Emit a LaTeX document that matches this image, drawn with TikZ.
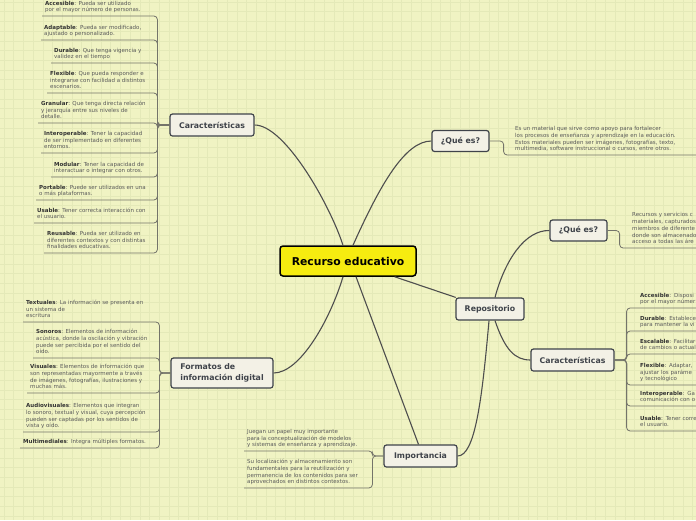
\documentclass[tikz,border=0pt]{standalone}
\usepackage{fontspec}
\setmainfont{DejaVu Sans}
\definecolor{bgc}{HTML}{F0F3C3}
\definecolor{gridc}{HTML}{E4E9B8}
\definecolor{nodefill}{HTML}{F3F1E6}
\definecolor{nodedraw}{HTML}{3F434A}
\definecolor{yellowc}{HTML}{F6EC10}
\definecolor{maincol}{HTML}{4E4E4E}
\definecolor{leafcol}{HTML}{74746A}
\definecolor{kwcol}{HTML}{333333}
\definecolor{bodycol}{HTML}{5A5A5A}
\newcommand\leaffont{\fontsize{5.5}{6.7}\selectfont}
\newcommand\kw[1]{\textbf{\color{kwcol}#1}}
\tikzset{
  main/.style={draw=maincol, line width=1.1pt},
  leafline/.style={draw=leafcol, line width=0.8pt, rounded corners=3.5pt},
  topic/.style={draw=nodedraw, fill=nodefill, line width=1.2pt, rounded corners=2.5pt,
    font=\fontsize{7.8}{10.5}\selectfont\bfseries, text=nodedraw, inner xsep=8pt, inner ysep=3pt, minimum height=22pt},
  leaf/.style={anchor=south west, inner xsep=3pt, inner ysep=2pt, font=\leaffont, text=bodycol, align=left},
  rleaf/.style={leaf, text width=150pt},
}
\begin{document}
\begin{tikzpicture}[x=1pt,y=-1pt]
\useasboundingbox (0,0) rectangle (696,520);
\clip (0,0) rectangle (696,520);
\fill[bgc] (0,0) rectangle (696,520);
\foreach \i in {0,...,72} {\draw[gridc, line width=0.6pt] (\i*9.7+4,0) -- (\i*9.7+4,520);}
\foreach \i in {0,...,54} {\draw[gridc, line width=0.6pt] (0,\i*9.7+2) -- (696,\i*9.7+2);}

% main topics
\node[draw=black, fill=yellowc, line width=1.5pt, rounded corners=3pt,
  font=\fontsize{10.8}{13}\selectfont\bfseries, minimum width=136pt, minimum height=30pt] (rec) at (348,261) {Recurso educativo};
\node[topic, minimum width=84pt] (car1) at (212,125) {Características};
\node[topic, minimum width=57pt, minimum height=21pt] (que1) at (460.5,141) {¿Qué es?};
\node[topic, minimum width=68pt] (repo) at (490,309) {Repositorio};
\node[topic, minimum width=83pt] (car2) at (572.5,360) {Características};
\node[topic, minimum width=73pt] (imp) at (420.5,456) {Importancia};
\node[topic, minimum width=102pt, minimum height=30pt, align=left, inner xsep=9pt] (form) at (222,373) {Formatos de\\información digital};
\node[topic, minimum width=57pt, minimum height=21pt] (que2) at (578.5,230.5) {¿Qué es?};

% main connectors
\draw[main] ([xshift=-5pt]rec.north) .. controls (330,205) and (285,125) .. (car1.east);
\draw[main] ([xshift=5pt]rec.north) .. controls (380,185) and (405,141) .. (que1.west);
\draw[main] (rec) -- (repo);
\draw[main] ([xshift=-5pt]rec.south) .. controls (330,320) and (300,373) .. (form.east);
\draw[main] ([xshift=8pt]rec.south) -- ([xshift=-2pt]imp.north);
\draw[main] ([xshift=5pt]repo.north) .. controls (505,260) and (525,230) .. (que2.west);
\draw[main] ([xshift=5pt]repo.south) .. controls (505,350) and (515,360) .. (car2.west);
\draw[main] ([xshift=-1pt]repo.south) .. controls (482,400) and (475,456) .. (imp.east);

% left Caracteristicas leaves
\node[leaf] (a1) at (42,16) {\strut\kw{Accesible}: Pueda ser utilizado\\por el mayor número de personas.\strut};
\node[leaf] (a2) at (41,40) {\strut\kw{Adaptable}: Pueda ser modificado,\\ajustado o personalizado.\strut};
\node[leaf] (a3) at (51,63) {\strut\kw{Durable}: Que tenga vigencia y\\validez en el tiempo\strut};
\node[leaf] (a4) at (47,93) {\strut\kw{Flexible}: Que pueda responder e\\integrarse con facilidad a distintos\\escenarios.\strut};
\node[leaf] (a5) at (38,123) {\strut\kw{Granular}: Que tenga directa relación\\y jerarquía entre sus niveles de\\detalle.\strut};
\node[leaf] (a6) at (41,153) {\strut\kw{Interoperable}: Tener la capacidad\\de ser implementado en diferentes\\entornos.\strut};
\node[leaf] (a7) at (51,177) {\strut\kw{Modular}: Tener la capacidad de\\interactuar o integrar con otros.\strut};
\node[leaf] (a8) at (36,200) {\strut\kw{Portable}: Puede ser utilizados en una\\o más plataformas.\strut};
\node[leaf] (a9) at (34,223) {\strut\kw{Usable}: Tener correcta interacción con\\el usuario.\strut};
\node[leaf] (a10) at (44,253) {\strut\kw{Reusable}: Pueda ser utilizado en\\diferentes contextos y con distintas\\finalidades educativas.\strut};
\foreach \n in {a1,a2,a3,a4,a5,a6,a7,a8,a9,a10}
  {\draw[leafline] (car1.west) -- ++(-12,0) |- (\n.south west);}

% Formatos leaves
\node[leaf] (f1) at (23,322) {\strut\kw{Textuales}: La información se presenta en\\un sistema de\\escritura\strut};
\node[leaf] (f2) at (33,358) {\strut\kw{Sonoros}: Elementos de información\\acústica, donde la oscilación y vibración\\puede ser percibida por el sentido del\\oído.\strut};
\node[leaf] (f3) at (27,393) {\strut\kw{Visuales}: Elementos de información que\\son representadas mayormente a través\\de imágenes, fotografías, ilustraciones y\\muchas más.\strut};
\node[leaf] (f4) at (23,432) {\strut\kw{Audiovisuales}: Elementos que integran\\lo sonoro, textual y visual, cuya percepción\\pueden ser captadas por los sentidos de\\vista y oído.\strut};
\node[leaf] (f5) at (20,448) {\strut\kw{Multimediales}: Integra múltiples formatos.\strut};
\foreach \n in {f1,f2,f3,f4,f5}
  {\draw[leafline] (form.west) -- ++(-11,0) |- (\n.south west);}

% Importancia leaves
\node[leaf] (i1) at (244,451) {\strut Juegan un papel muy importante\\para la conceptualización de modelos\\y sistemas de enseñanza y aprendizaje.\strut};
\node[leaf] (i2) at (244,488) {\strut Su localización y almacenamiento son\\fundamentales para la reutilización y\\permanencia de los contenidos para ser\\aprovechados en distintos contextos.\strut};
\foreach \n in {i1,i2}
  {\draw[leafline] (imp.west) -- ++(-11,0) |- (\n.south west);}

% top Que es leaf
\node[leaf, text width=185pt] (q1) at (512,155) {\strut Es un material que sirve como apoyo para fortalecer\\los procesos de enseñanza y aprendizaje en la educación.\\Estos materiales pueden ser imágenes, fotografías, texto,\\multimedia, software instruccional o cursos, entre otros.\strut};
\draw[leafline] (que1.east) -- ++(14,0) |- (q1.south east);

% right Que es leaf (text cut by the picture's edge, as in the reference)
\node[rleaf] (q2) at (629,248) {\strut Recursos y servicios c\\materiales, capturados\\miembros de diferente\\donde son almacenado\\acceso a todas las áre\strut};
\draw[leafline] (que2.east) -- ++(12,0) |- (q2.south east);

% right Caracteristicas leaves
\node[rleaf] (r1) at (637,308) {\strut\kw{Accesible}: Disposi\\por el mayor númer\strut};
\node[rleaf] (r2) at (637,331) {\strut\kw{Durable}: Establece\\para mantener la vi\strut};
\node[rleaf] (r3) at (637,354) {\strut\kw{Escalable}: Facilitar\\de cambios o actuali\strut};
\node[rleaf] (r4) at (637,385) {\strut\kw{Flexible}: Adaptar,\\ ajustar los paráme\\y tecnológico\strut};
\node[rleaf] (r5) at (637,406) {\strut\kw{Interoperable}: Ga\\comunicación con o\strut};
\node[rleaf] (r6) at (637,431) {\strut\kw{Usable}: Tener corre\\el usuario.\strut};
\foreach \n in {r1,r2,r3,r4,r5,r6}
  {\draw[leafline] (car2.east) -- ++(12,0) |- (\n.south east);}
\end{tikzpicture}
\end{document}
